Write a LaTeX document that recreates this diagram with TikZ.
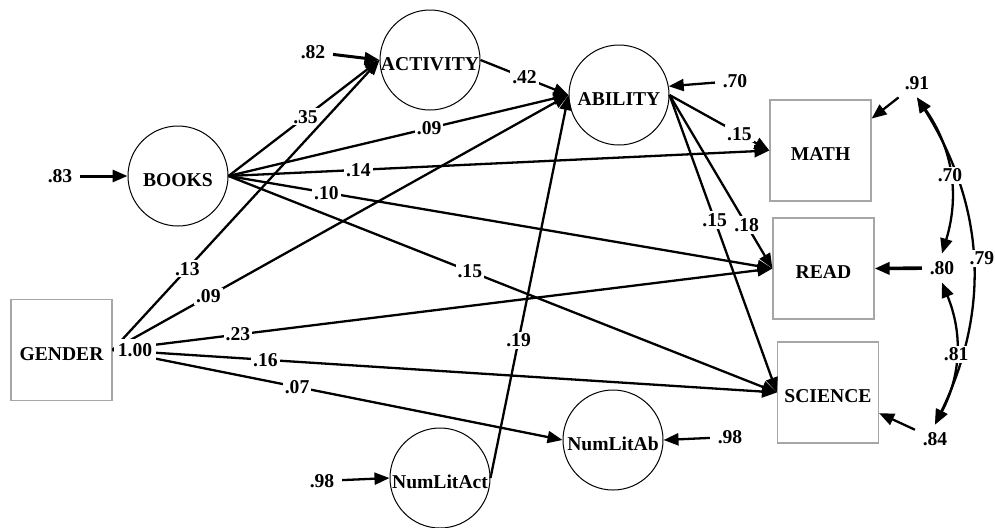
\documentclass[tikz,border=0pt]{standalone}
\usepackage{fontspec}
\setmainfont{Liberation Serif}
\usepackage{tikz}
\usetikzlibrary{arrows.meta, positioning}

\begin{document}
\begin{tikzpicture}[x=0.5pt, y=-0.5pt, line width=1.15pt,
    font=\fontsize{9.8}{11}\selectfont\bfseries,
    latent/.style={circle, draw, line width=0.5pt, minimum size=50pt, inner sep=0pt},
    observed/.style={draw=gray!70, line width=0.6pt, minimum size=50.5pt, inner sep=0pt},
    vname/.style={label={[yshift=-2pt]center:#1}},
    coef/.style={fill=white, inner sep=1pt},
    effect/.style={-{Triangle[length=7.5pt, width=6pt]}},
    corr/.style={{Triangle[length=7.5pt, width=6pt]}-{Triangle[length=7.5pt, width=6pt]}}]
            \useasboundingbox (0,0) rectangle (995,527);

            % Variables
            \node[latent, vname=BOOKS] (books) at (178,176) {};
            \node[latent, vname=ACTIVITY] (activity) at (430,60) {};
            \node[latent, vname=ABILITY] (ability) at (619,95) {};
            \node[latent, vname=NumLitAct] (nlact) at (440,478) {};
            \node[latent, vname=NumLitAb] (nlab) at (613,440) {};
            \node[observed, vname=GENDER] (gender) at (61.5,350) {};
            \node[observed, vname=MATH] (math) at (820.5,150.5) {};
            \node[observed, vname=READ] (read) at (823.5,268.5) {};
            \node[observed, vname=SCIENCE] (sci) at (828,392.5) {};

            % Residuals
            \node (e83) at (60,176) {.83};
            \node (e82) at (313,52) {.82};
            \node (e70) at (735,81) {.70};
            \node (e98a) at (322,481) {.98};
            \node (e98b) at (730,437) {.98};
            \node (e91) at (917,83) {.91};
            \node (e80) at (942,268) {.80};
            \node (e84) at (935,439) {.84};

            \draw[effect, line width=1.5pt] (e83) -- (books);
            \draw[effect, line width=1.5pt] (e82) -- (activity.west);
            \draw[effect] (e70) -- (ability.10);
            \draw[effect] (e98a) -- (nlact.west);
            \draw[effect] (e98b) -- (nlab.east);
            \draw[effect] (e91) -- (math.32);
            \draw[effect, line width=1.8pt] (e80) -- (read.east);
            \draw[effect] (e84) -- (sci.-22);

            % Paths from BOOKS
            \draw[effect] (books.east) -- node[coef, pos=0.51] {.35} (activity.west);
            \draw[effect] (books.east) -- node[coef, pos=0.59] {.09} (ability.west);
            \draw[effect] (books.east) -- node[coef, pos=0.24] {.14} (math.west);
            \draw[effect] (books.east) -- node[coef, pos=0.18] {.10} (read.west);
            \draw[effect] (books.east) -- node[coef, pos=0.44] {.15} (sci.west);

            % Paths from GENDER
            \draw[effect] (gender.east) -- node[coef, pos=0.28] {.13} (activity.west);
            \draw[effect] (gender.east) -- node[coef, pos=0.21] {.09} (ability.west);
            \draw[effect] (gender.east) -- node[coef, pos=0.19] {.23} (read.west);
            \draw[effect] (gender.east) -- node[coef, pos=0.23] {.16} (sci.west);
            \draw[effect] (gender.east) -- node[coef, pos=0.41] {.07} (nlab.west);
            \node[fill=white, inner sep=2pt] (var) at (135,350) {1.00};

            % Paths into and out of ABILITY
            \draw[effect] (activity.east) -- node[coef, pos=0.5] {.42} (ability.west);
            \draw[effect] (nlact.east) -- node[coef, pos=0.36] {.19} (ability.west);
            \draw[effect] (ability.east) -- node[coef, pos=0.70] {.15} (math.west);
            \draw[effect] (ability.east) -- node[coef, pos=0.75] {.18} (read.west);
            \draw[effect] (ability.east) -- node[coef, pos=0.42] {.15} (sci.west);

            % Correlated residuals
            \draw[corr] (e91.south) to[bend left=29] node[coef, pos=0.5, right=-3pt] {.79} (e84.north);
            \draw[corr] (e91.south) to[bend left=26] node[coef, pos=0.52] {.70} (e80.north);
            \draw[corr] (e80.south) to[bend left=25] node[coef, pos=0.5] {.81} (e84.north);
        \end{tikzpicture}
\end{document}
